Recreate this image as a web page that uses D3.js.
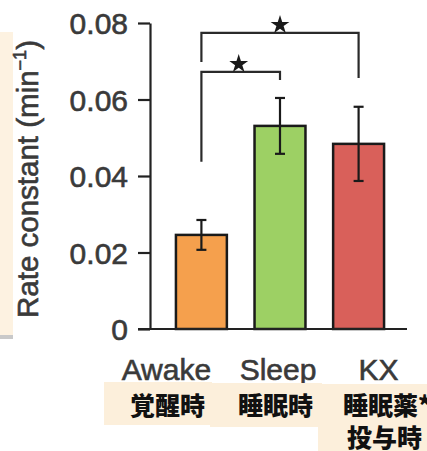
<!DOCTYPE html>
<html>
<head>
<meta charset="utf-8">
<script src="https://cdn.jsdelivr.net/npm/d3@7"></script>
<style>
  html, body { margin: 0; padding: 0; background: #fff; }
  svg { display: block; }
</style>
</head>
<body>
<svg id="chart" width="427" height="451"></svg>
<script>
// Rate constants per condition, with error bars
const categories = ["Awake", "Sleep", "KX"];
const jpLabels = ["覚醒時", "睡眠時", "睡眠薬*"];
const jpSecondLine = ["", "", "投与時"];
const means = [0.0246, 0.0531, 0.0484];
const errors = [0.0039, 0.0073, 0.0097];
const barColors = ["#F5A04D", "#9DD064", "#D9605A"];
const yTicks = [0, 0.02, 0.04, 0.06, 0.08];
const yTickLabels = ["0", "0.02", "0.04", "0.06", "0.08"];
// significance comparisons: [from, to]
const comparisons = [[0, 1], [0, 2]];

const svg = d3.select("#chart");
const font = "'Liberation Sans', Arial, Helvetica, sans-serif";
const jpFont = "'Noto Sans CJK JP', 'Noto Sans CJK SC', sans-serif";
const textGray = "#3a3a3a";

const x = d3.scaleBand().domain(categories).range([150, 410])
  .paddingInner(0.352).paddingOuter(0.33);
const y = d3.scaleLinear().domain([0, 0.08]).range([329, 23]);

// side note panel (clipped at the left edge)
svg.append("rect").attr("x", 0).attr("y", 32).attr("width", 13).attr("height", 304)
  .attr("fill", "#FDF2E1");
svg.append("rect").attr("x", 0).attr("y", 335).attr("width", 13).attr("height", 4)
  .attr("fill", "#c9c9c9");

// bars
svg.append("g").selectAll("rect").data(categories).join("rect")
  .attr("x", d => x(d))
  .attr("y", (d, i) => y(means[i]))
  .attr("width", x.bandwidth())
  .attr("height", (d, i) => y(0) - y(means[i]))
  .attr("fill", (d, i) => barColors[i])
  .attr("stroke", "#1a1a1a").attr("stroke-width", 2.5);

// error bars
const eb = svg.append("g").attr("stroke", "#1a1a1a").attr("stroke-width", 2.2);
categories.forEach((c, i) => {
  const cx = x(c) + x.bandwidth() / 2;
  const lo = y(means[i] - errors[i]), hi = y(means[i] + errors[i]);
  eb.append("line").attr("x1", cx).attr("x2", cx).attr("y1", lo).attr("y2", hi);
  eb.append("line").attr("x1", cx - 5).attr("x2", cx + 5).attr("y1", lo).attr("y2", lo);
  eb.append("line").attr("x1", cx - 5).attr("x2", cx + 5).attr("y1", hi).attr("y2", hi);
});

// y axis
const yAxis = svg.append("g").attr("transform", "translate(150,0)")
  .call(d3.axisLeft(y).tickValues(yTicks)
    .tickFormat((d, i) => yTickLabels[i])
    .tickSize(12).tickSizeOuter(0).tickPadding(10));
yAxis.select(".domain").attr("stroke", "#222").attr("stroke-width", 2.2);
yAxis.selectAll(".tick line").attr("stroke", "#222").attr("stroke-width", 2.2);
yAxis.selectAll(".tick text").attr("font-family", font).attr("font-size", 30)
  .attr("fill", textGray).attr("stroke", textGray).attr("stroke-width", 0.6)
  .attr("dy", "0.36em");

// baseline
svg.append("line").attr("x1", 138).attr("x2", 407)
  .attr("y1", y(0)).attr("y2", y(0))
  .attr("stroke", "#222").attr("stroke-width", 2.2);

// y axis title
const title = svg.append("text")
  .attr("transform", "translate(38,179) rotate(-90)")
  .attr("text-anchor", "middle")
  .attr("font-family", font).attr("font-size", 29.5)
  .attr("fill", textGray).attr("stroke", textGray).attr("stroke-width", 0.6);
title.append("tspan").text("Rate constant (min");
title.append("tspan").attr("font-size", 18).attr("dy", -12).text("−1");
title.append("tspan").attr("dy", 12).text(")");

// category labels
const labelShift = [-35, -2, 20];
svg.append("g").selectAll("text").data(categories).join("text")
  .attr("x", (d, i) => x(d) + x.bandwidth() / 2 + labelShift[i])
  .attr("y", 380)
  .attr("text-anchor", "middle")
  .attr("font-family", font).attr("font-size", 30)
  .attr("fill", textGray).attr("stroke", textGray).attr("stroke-width", 0.6)
  .text(d => d);

// Japanese label panels
const jp = svg.append("g");
jp.append("rect").attr("x", 104).attr("y", 382).attr("width", 108).attr("height", 43).attr("fill", "#FCEFDB");
jp.append("rect").attr("x", 210).attr("y", 383).attr("width", 112).attr("height", 44).attr("fill", "#FCEFDB");
jp.append("rect").attr("x", 318).attr("y", 384).attr("width", 109).attr("height", 67).attr("fill", "#FCEFDB");

const jpX = [130, 238, 343];
jp.selectAll("text.l1").data(jpLabels).join("text").attr("class", "l1")
  .attr("x", (d, i) => jpX[i]).attr("y", 415)
  .attr("font-family", jpFont).attr("font-weight", 900).attr("font-size", 25)
  .attr("fill", "#111").text(d => d);
jp.selectAll("text.l2").data(jpSecondLine.filter(d => d)).join("text").attr("class", "l2")
  .attr("x", 347).attr("y", 447)
  .attr("font-family", jpFont).attr("font-weight", 900).attr("font-size", 25)
  .attr("fill", "#111").text(d => d);

// significance brackets: [top level, left leg end, right leg end] in data units
const bracketLevels = [[0.0672, 0.0437, 0.0651], [0.0774, 0.0698, 0.0656]];
const br = svg.append("g");
comparisons.forEach(([a, b], k) => {
  const x1 = x(categories[a]) + x.bandwidth() / 2;
  const x2 = x(categories[b]) + x.bandwidth() / 2;
  const [top, l, r] = bracketLevels[k];
  br.append("path")
    .attr("d", `M${x1},${y(l)}V${y(top)}H${x2}V${y(r)}`)
    .attr("fill", "none").attr("stroke", "#2a2a2a").attr("stroke-width", 2.2);
  const sx = k === 0 ? (x1 + x2) / 2 - 2 : (x1 + x2) / 2;
  br.append("path")
    .attr("d", d3.symbol(d3.symbolStar, 110)())
    .attr("transform", `translate(${sx},${y(top) - 8})`)
    .attr("fill", "#1a1a1a");
});
</script>
</body>
</html>
